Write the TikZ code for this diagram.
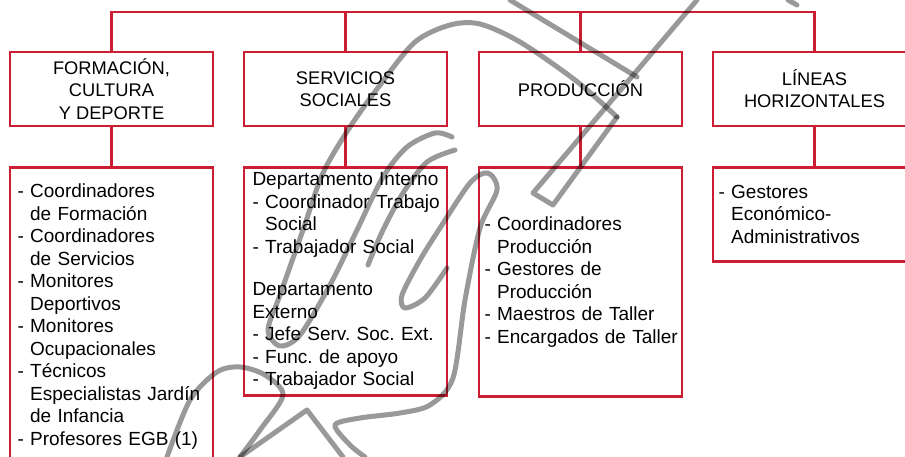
\documentclass[tikz,border=0pt]{standalone}
\usepackage{fontspec}
\setmainfont{Liberation Sans}
\frenchspacing
\usetikzlibrary{positioning}
\definecolor{rojo}{RGB}{204,30,50}
\def\sang{\phantom{- }}
\tikzset{cabecera/.style={draw=rojo,line width=2.4pt,minimum width=203pt,minimum height=74pt,align=center,font=\fontsize{18.3}{22.2}\selectfont}}
\tikzset{lista/.style={draw=rojo,line width=2.4pt,minimum width=203pt,text width=192pt,inner xsep=5.5pt,align=left,font=\fontsize{19}{22.5}\selectfont}}
\tikzset{linea/.style={draw=rojo,line width=2.4pt}}
\tikzset{marca/.style={line width=5pt,black,opacity=.4,line cap=round,line join=round}}

\begin{document}
\begin{tikzpicture}[x=1pt,y=-1pt]
  \useasboundingbox (0,0) rectangle (905,457);
  % areas
  \node[cabecera] at (111.5,89) (formacion) {FORMACIÓN,\\CULTURA\\Y DEPORTE};
  \node[cabecera] at (345.5,89) (servicios) {SERVICIOS\\SOCIALES};
  \node[cabecera] at (580.5,89) (produccion) {PRODUCCIÓN};
  \node[cabecera] at (814.5,89) (lineas) {LÍNEAS\\HORIZONTALES};
  % puestos
  \node[lista,minimum height=298pt] (formlista) [below=39pt of formacion] {\hspace{2pt}- Coordinadores\\\hspace{2pt}\sang de Formación\\\hspace{2pt}- Coordinadores\\\hspace{2pt}\sang de Servicios\\\hspace{2pt}- Monitores\\\hspace{2pt}\sang Deportivos\\\hspace{2pt}- Monitores\\\hspace{2pt}\sang Ocupacionales\\\hspace{2pt}- Técnicos\\\hspace{2pt}\sang Especialistas Jardín\\\hspace{2pt}\sang de Infancia\\\hspace{2pt}- Profesores EGB (1)};
  \node[lista,minimum height=228pt] (servlista) [below=39pt of servicios] {\hspace{3pt}\mbox{Departamento Interno}\\\hspace{3pt}\mbox{- Coordinador Trabajo}\\\hspace{3pt}\sang Social\\\hspace{3pt}- Trabajador Social\\[20pt]\hspace{3pt}Departamento\\\hspace{3pt}Externo\\\hspace{3pt}- Jefe Serv. Soc. Ext.\\\hspace{3pt}- Func. de apoyo\\\hspace{3pt}- Trabajador Social};
  \node[lista,minimum height=229pt] (prodlista) [below=39pt of produccion] {- Coordinadores\\\sang Producción\\- Gestores de\\\sang Producción\\- Maestros de Taller\\\mbox{- Encargados de Taller}};
  \node[lista,minimum height=94pt] (linlista) [below=39pt of lineas] {- Gestores\\\sang Económico-\\\sang Administrativos};
  % conectores
  \draw[linea] (formacion.north) -- ++(0,-39) coordinate (arriba) -| (lineas.north);
  \foreach \n in {servicios,produccion}
    \draw[linea] (\n.north) -- (\n.north |- arriba);
  \foreach \n/\m in {formacion/formlista,servicios/servlista,produccion/prodlista,lineas/linlista}
    \draw[linea] (\n) -- (\m);
  % marca de agua
  \draw[marca] (510,0) -- (637,77);
  \draw[marca] (697,0) -- (533,193) -- (553,205) -- (617,117);
  \draw[marca] plot[smooth] coordinates {(617,117) (575,80) (520,42) (480,24) (450,25) (415,42) (380,85) (350,127) (323,173) (303,230) (280,295) (268,330) (280,346) (300,335) (330,285) (357,230) (383,177) (407,147) (435,133) (452,137)};
  \draw[marca] plot[smooth] coordinates {(455,150) (427,162) (403,193) (383,230) (368,265)};
  \draw[marca] plot[smooth] coordinates {(447,268) (425,298) (405,308) (402,295) (420,260) (440,228) (470,183) (488,173) (497,190) (480,228) (465,300) (453,378) (430,405) (400,413) (360,418) (335,425) (350,445) (365,457)};
  \draw[marca] plot[smooth] coordinates {(167,457) (190,400) (217,372) (240,367) (265,375) (283,395) (260,430) (240,457)};
  \draw[marca] (240,457) -- (307,410) -- (343,457);
  \draw[marca] (788,0) -- (797,5);
\end{tikzpicture}
\end{document}
